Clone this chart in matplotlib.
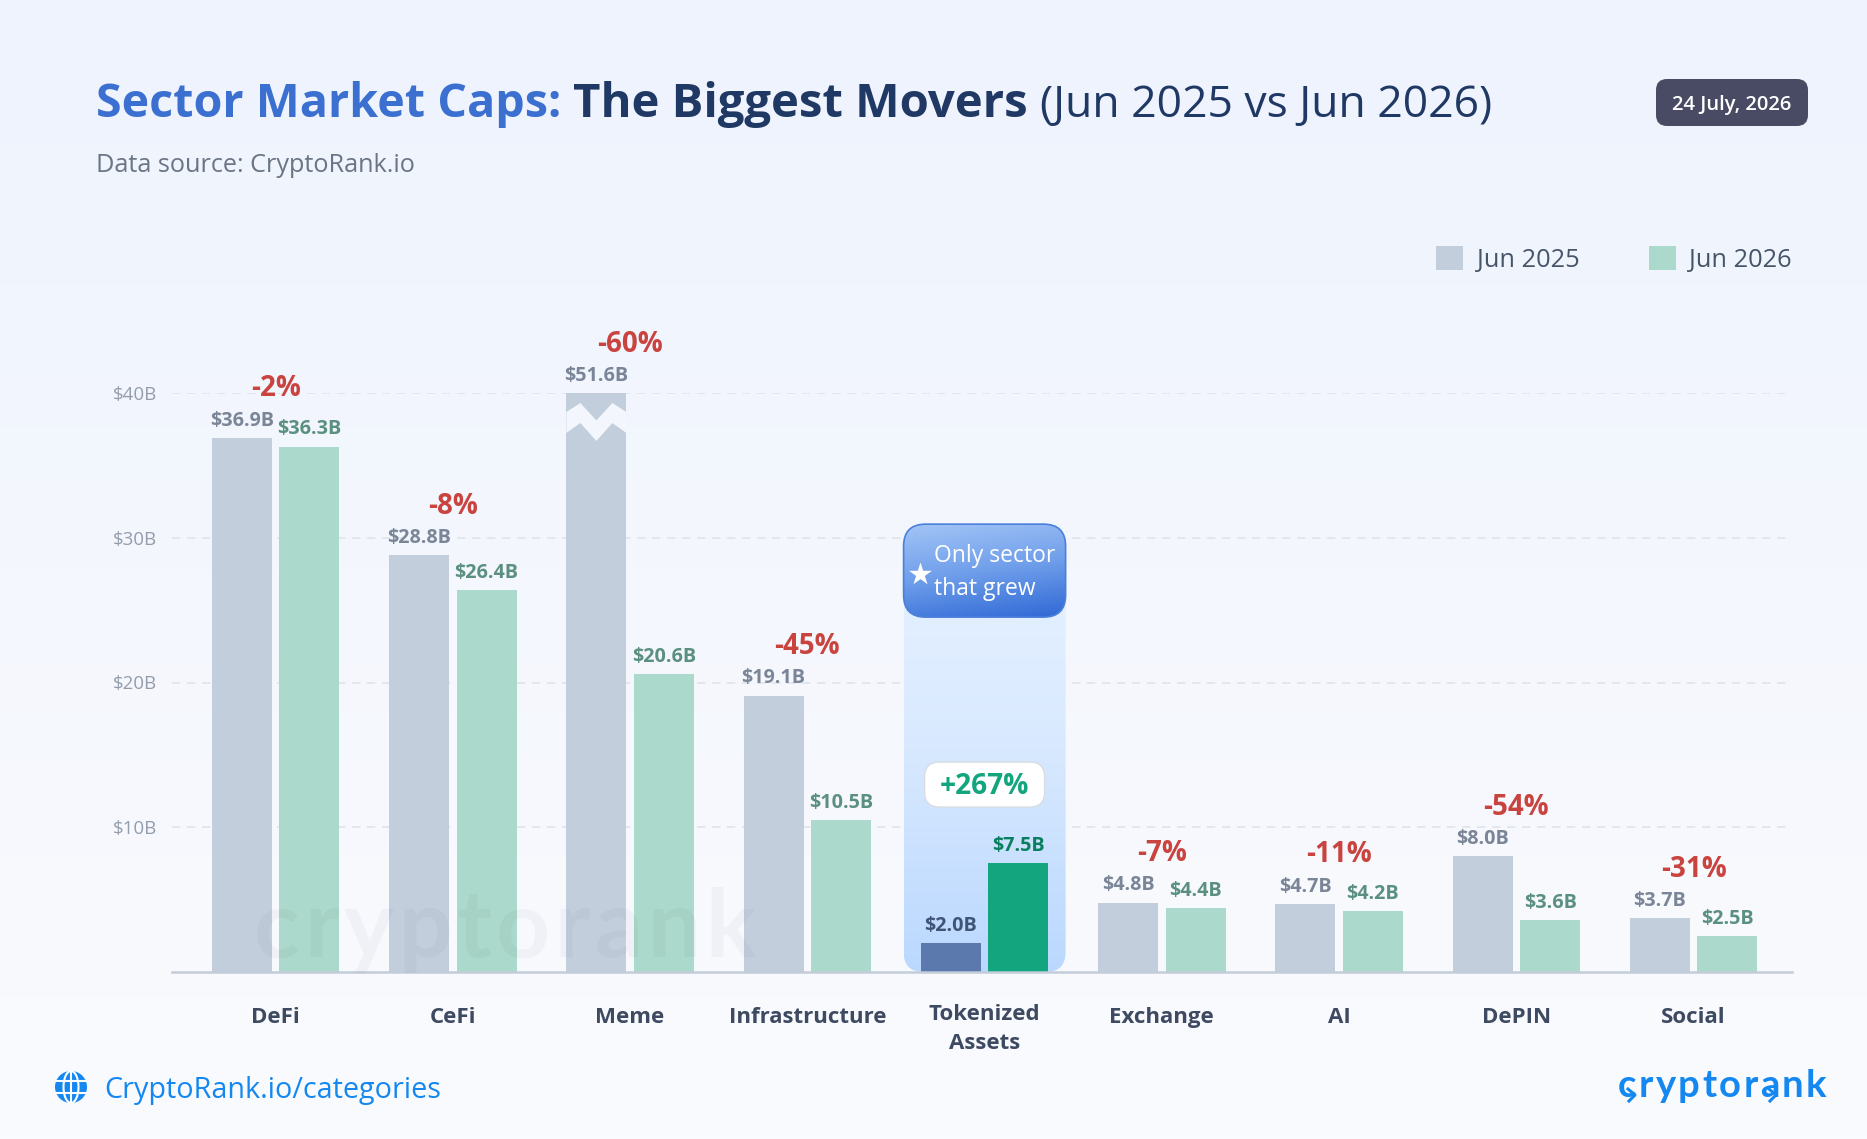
import numpy as np
import matplotlib
matplotlib.use("Agg")
import matplotlib.pyplot as plt
from matplotlib.colors import LinearSegmentedColormap
from matplotlib.lines import Line2D
from matplotlib.patches import Circle, Ellipse, FancyBboxPatch
from matplotlib.transforms import ScaledTranslation

plt.rcParams['font.family'] = ['Open Sans', 'DejaVu Sans']

# data
sectors = ['DeFi', 'CeFi', 'Meme', 'Infrastructure', 'Tokenized\nAssets', 'Exchange', 'AI', 'DePIN', 'Social']
jun_2025 = [36.9, 28.8, 51.6, 19.1, 2.0, 4.8, 4.7, 8.0, 3.7]
jun_2026 = [36.3, 26.4, 20.6, 10.5, 7.5, 4.4, 4.2, 3.6, 2.5]
changes = ['-2%', '-8%', '-60%', '-45%', '+267%', '-7%', '-11%', '-54%', '-31%']
y_ticks = [10, 20, 30, 40]
y_labels = ['$10B', '$20B', '$30B', '$40B']
y_cap = 40
hero = 4  # index of the tokenized group

W, H = 1867, 1139
PX_X = 177.25  # pixels per category
PX_Y = 14.48   # pixels per $1B
BAR_W = 60 / PX_X
OFFSET = 33.75 / PX_X


def fx(x):
    return x / W


def fy(y):
    return 1 - y / H


def gradient(stops, n=256):
    return LinearSegmentedColormap.from_list('g', stops, N=n)


def spaced_text(x, base, text, gap, **kw):
    # matplotlib has no letter spacing, so place the letters one by one
    t = fig.text(0, 0, '', **kw)
    for k, ch in enumerate(text):
        t.set_text(text[:k] + '.')
        adv = t.get_window_extent(renderer).width
        t.set_text('.')
        adv -= t.get_window_extent(renderer).width
        fig.text(fx(x + adv + k * gap), fy(base), ch, va='baseline', **kw)
    t.remove()


fig = plt.figure(figsize=(W / 100, H / 100), dpi=100)
renderer = fig.canvas.get_renderer()

# page background
bg = fig.add_axes([0, 0, 1, 1], zorder=-1)
bg.imshow(np.linspace(0, 1, 256)[:, None], aspect='auto', cmap=gradient(['#EEF3FD', '#FAFBFE']), extent=(0, W, H, 0))
bg.axis('off')

ax = fig.add_axes([fx(172), fy(972), 1620 / W, 579 / H])
ax.patch.set_alpha(0)
x = np.arange(len(sectors))

colors_25 = ['#C2CEDC'] * len(sectors)
colors_26 = ['#ABD9CB'] * len(sectors)
colors_25[hero] = '#5B79AD'
colors_26[hero] = '#13A67E'
label_25 = ['#7A8698'] * len(sectors)
label_26 = ['#5B9080'] * len(sectors)
label_25[hero] = '#3F5578'
label_26[hero] = '#0A7F60'

bars_25 = ax.bar(x - OFFSET, jun_2025, BAR_W, color=colors_25, zorder=2)
bars_26 = ax.bar(x + OFFSET, jun_2026, BAR_W, color=colors_26, zorder=2)

XLIM = (-103.6 / PX_X, 8 + 98.4 / PX_X)
ax.set_xlim(XLIM)
ax.set_ylim(0, y_cap)
ax.set_yticks(y_ticks, y_labels, fontsize=13.5, color='#949DAB')
ax.set_xticks(x, sectors, fontsize=16, fontweight='bold', color='#3E4A61', linespacing=1.5)
ax.tick_params(axis='y', length=0, pad=11)
ax.tick_params(axis='x', length=0, pad=25)
ax.grid(axis='y', color='#DFE4EB', linestyle=(0, (5, 4)), linewidth=1.2, zorder=0.5)
ax.set_axisbelow(True)
for s in ['top', 'left', 'right']:
    ax.spines[s].set_visible(False)
ax.spines['bottom'].set_color('#C3CCD9')
ax.spines['bottom'].set_linewidth(1.8)
ax.spines['bottom'].set_zorder(3)

# two line label sits a little higher than the others
hero_label = ax.get_xticklabels()[hero]
hero_label.set_transform(hero_label.get_transform() + ScaledTranslation(0, 2 / 72, fig.dpi_scale_trans))

# value and change labels
for i in x:
    v25, v26 = jun_2025[i], jun_2026[i]
    ax.annotate(f'${v25:.1f}B', (i - OFFSET, min(v25, y_cap)), xytext=(0, 5.2), textcoords='offset points',
                ha='center', va='bottom', fontsize=14.2, fontweight='bold', color=label_25[i], annotation_clip=False)
    ax.annotate(f'${v26:.1f}B', (i + OFFSET, v26), xytext=(0, 5.2), textcoords='offset points',
                ha='center', va='bottom', fontsize=14.2, fontweight='bold', color=label_26[i], annotation_clip=False)
    if i != hero:
        top = min(max(v25, v26), y_cap)
        ax.text(i, top + 49 / PX_Y, changes[i], ha='center', va='center', fontsize=20,
                fontweight='bold', color='#C9433F', clip_on=False)

# axis break on the meme bar
zig_x = np.array([-30, -16, 0, 16, 30, 30, 16, 0, -16, -30]) / PX_X
zig_y = np.array([19, 10, 27.5, 10, 19, 40, 30, 48, 30, 40]) / PX_Y
ax.fill(2 - OFFSET + zig_x, y_cap - zig_y, color='#F3F7FD', zorder=2.5, lw=0)

# highlight column
half = 81 / PX_X
col_top = 448 / PX_Y
head_bottom = 355 / PX_Y
aspect = PX_X / PX_Y
column = FancyBboxPatch((hero - half, 0), 2 * half, col_top, boxstyle='round,pad=0,rounding_size=%f' % (20 / PX_X),
                        mutation_aspect=aspect, transform=ax.transData, fc='none', ec='none')
ax.add_patch(column)
col_img = ax.imshow(np.linspace(0, 1, 256)[:, None], aspect='auto', cmap=gradient(['#E9F3FF', '#D8E9FF', '#BAD8FE']),
                    extent=(hero - half, hero + half, 0, col_top), zorder=1)
col_img.set_clip_path(column)

header = FancyBboxPatch((hero - half, head_bottom), 2 * half, col_top - head_bottom,
                        boxstyle='round,pad=0,rounding_size=%f' % (22 / PX_X), mutation_aspect=aspect,
                        fc='none', ec='#4B80DA', lw=1.2, zorder=3.2)
ax.add_patch(header)
yy, xx = np.mgrid[0:1:128j, 0:1:128j]
head_img = ax.imshow(yy * 0.8 + xx * 0.2, aspect='auto', cmap=gradient(['#A3C5F7', '#6F9EEA', '#3069D6']),
                     extent=(hero - half, hero + half, head_bottom, col_top), zorder=3)
head_img.set_clip_path(header)
ax.set_xlim(XLIM)
ax.set_ylim(0, y_cap)
ax.scatter([hero - 65 / PX_X], [398 / PX_Y], marker='*', s=300, color='white', lw=0, zorder=4)
ax.text(hero - 51 / PX_X, 399.6 / PX_Y, 'Only sector\nthat grew', color='white', fontsize=16.5, va='center', ha='left',
        linespacing=1.48, zorder=4)

# change pill
pill_y, pill_h = 165 / PX_Y, 45 / PX_Y
ax.add_patch(FancyBboxPatch((hero - 60 / PX_X, pill_y), 120 / PX_X, pill_h,
                            boxstyle='round,pad=0,rounding_size=%f' % (15 / PX_X), mutation_aspect=aspect,
                            fc='white', ec='#D9DDE3', lw=1, zorder=3))
ax.text(hero, pill_y + pill_h / 2 - 2.4 / PX_Y, changes[hero], ha='center', va='center', fontsize=20.2,
        fontweight='bold', color='#13A67E', zorder=4)

ax.legend([bars_25[0], bars_26[0]], ['Jun 2025', 'Jun 2026'], ncol=2, frameon=False, fontsize=18.3,
          labelcolor='#475569', handlelength=1.06, handleheight=1.06, handletextpad=0.52, columnspacing=2.75,
          borderpad=0, borderaxespad=0, loc='center right', bbox_to_anchor=(fx(1792), fy(259.5)),
          bbox_transform=fig.transFigure)

# title, built piece by piece
cursor = 96
for txt, col, weight, size in [('Sector Market Caps: ', '#3B6FD0', 'bold', 33.6), ('The Biggest Movers ', '#1F3864', 'bold', 34),
                               ('(Jun 2025 vs Jun 2026)', '#1F3864', 'normal', 32)]:
    t = fig.text(fx(cursor), fy(117), txt + '.', color=col, fontweight=weight, fontsize=size, va='baseline')
    full = t.get_window_extent(renderer).width
    t.set_text('.')
    cursor += full - t.get_window_extent(renderer).width
    t.set_text(txt.rstrip())

fig.text(fx(95.5), fy(171.5), 'Data source: CryptoRank.io', color='#6B7585', fontsize=18.2, va='baseline')

# date badge
fig.add_artist(FancyBboxPatch((1656, H - 126), 152, 47, boxstyle='round,pad=0,rounding_size=11', fc='#484B63', ec='none',
                              transform=None))
fig.text(fx(1732), fy(105), '24 July, 2026', color='white', fontsize=14.5, fontweight='semibold', ha='center', va='center')

# footer
fig.text(fx(104), fy(1098), 'CryptoRank.io/categories', color='#1487F0', fontsize=20.7, va='baseline')
link = '#1487F0'
gx, gy = 71, H - 1087
fig.add_artist(Circle((gx, gy), 16, fc=link, ec='none', transform=None))
fig.add_artist(Ellipse((gx, gy), 15, 32, fc='none', ec='white', lw=1.5, transform=None))
for dy in (-6, 6):
    half_w = np.sqrt(16 ** 2 - dy ** 2)
    fig.add_artist(Line2D([gx - half_w, gx + half_w], [gy + dy, gy + dy], color='white', lw=1.5, transform=None))
fig.add_artist(Line2D([gx, gx], [gy - 16, gy + 16], color='white', lw=1.5, transform=None))

spaced_text(1618, 1097, 'cryptorank', 2.4, color=link, fontsize=27.5, fontfamily='Lato', fontweight='bold')
for cx in (1632, 1773):
    fig.add_artist(Line2D([cx - 4, cx + 3, cx - 3], [H - 1089, H - 1095, H - 1101], color=link, lw=2.2, transform=None))

# faint watermark over the first bars
spaced_text(254, 957, 'cryptorank', 4.5, color='#3E4A61', alpha=0.045, fontsize=68, fontfamily='Lato',
            fontweight='bold')

fig.savefig('out.png', dpi=100)
